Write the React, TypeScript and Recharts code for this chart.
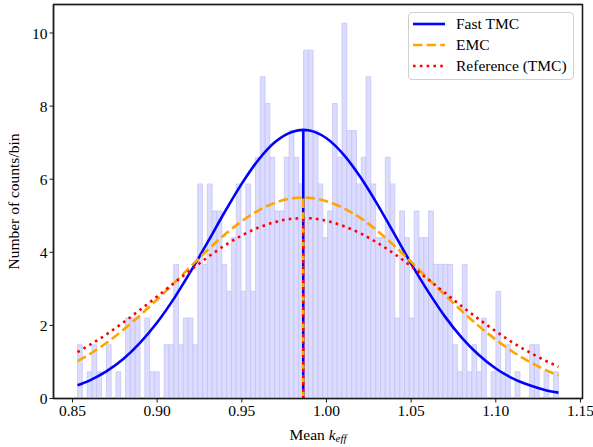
import React from 'react';
import * as Recharts from 'recharts';
import {
  ComposedChart,
  Bar,
  Line,
  XAxis,
  YAxis,
  Legend,
  Label,
  ReferenceLine,
} from 'recharts';

// histogram of mean k_eff (counts/bin, 100 bins from HIST_START)
const HIST_START = 0.853;
const BIN_WIDTH = 0.00284;
const BIN_HEIGHTS = [
  1.47, 0, 0.73, 1.47, 0.73, 0, 1.47, 0, 0.73, 0,
  2.2, 2.2, 2.2, 0, 2.2, 0.73, 0.73, 0, 1.47, 1.47,
  3.67, 1.47, 2.2, 2.2, 1.47, 5.87, 3.67, 5.87, 5.13, 5.13,
  3.67, 2.93, 4.4, 5.87, 2.93, 5.87, 2.93, 6.6, 8.8, 8.07,
  6.6, 5.13, 5.13, 6.6, 7.33, 6.6, 5.87, 9.53, 9.53, 7.33,
  5.87, 4.4, 5.13, 8.07, 6.6, 10.27, 7.33, 7.33, 5.87, 6.6,
  8.8, 5.87, 4.4, 4.4, 6.6, 5.87, 2.2, 5.13, 4.4, 2.2,
  5.13, 4.4, 4.4, 5.13, 3.67, 3.67, 3.67, 3.67, 1.47, 0.73,
  3.67, 0.73, 1.47, 0.73, 2.2, 0, 0.73, 2.93, 0.73, 1.47,
  0, 0.73, 0, 0, 1.47, 1.47, 0, 0.73, 0, 0.73,
];

// fitted normal curves
const CURVE_X = [
  0.853, 0.86, 0.87, 0.88, 0.89, 0.9, 0.91, 0.92, 0.93, 0.94, 0.95, 0.96, 0.97, 0.98,
  0.9863, 0.99, 1.0, 1.01, 1.02, 1.03, 1.04, 1.05, 1.06, 1.07, 1.08, 1.09, 1.1, 1.11,
  1.12, 1.13, 1.137,
];
const FAST_TMC = [
  0.36, 0.49, 0.74, 1.08, 1.53, 2.08, 2.74, 3.49, 4.29, 5.11, 5.88, 6.54, 7.03, 7.3,
  7.35, 7.33, 7.12, 6.68, 6.06, 5.32, 4.51, 3.69, 2.93, 2.24, 1.66, 1.19, 0.82, 0.55,
  0.36, 0.22, 0.16,
];
const EMC = [
  1.02, 1.21, 1.52, 1.88, 2.28, 2.71, 3.16, 3.62, 4.07, 4.49, 4.85, 5.15, 5.36, 5.48,
  5.5, 5.49, 5.4, 5.21, 4.94, 4.59, 4.18, 3.74, 3.28, 2.83, 2.39, 1.98, 1.61, 1.28,
  1.0, 0.77, 0.63,
];
const REFERENCE_TMC = [
  1.27, 1.46, 1.75, 2.08, 2.43, 2.79, 3.16, 3.52, 3.87, 4.19, 4.46, 4.68, 4.83, 4.92,
  4.93, 4.93, 4.86, 4.72, 4.52, 4.26, 3.96, 3.62, 3.26, 2.89, 2.52, 2.17, 1.84, 1.53,
  1.26, 1.02, 0.87,
];

const MEAN_KEFF = 0.9863;
const FAST_PEAK = 7.35;
const EMC_PEAK = 5.5;
const REF_PEAK = 4.93;

const X_TICKS = [0.85, 0.9, 0.95, 1.0, 1.05, 1.1, 1.15];
const Y_TICKS = [0, 2, 4, 6, 8, 10];
const X_DOMAIN: [number, number] = [0.8388, 1.1512];
const Y_DOMAIN: [number, number] = [0, 10.78];

const FONT = 'Liberation Serif, DejaVu Serif, serif';
const FONT_SIZE = 15.5;
const SPINE = '#1a1a1a';
const SPINE_W = 1.3;

const histData = BIN_HEIGHTS.map((h, i) => ({
  x: HIST_START + BIN_WIDTH * (i + 0.5),
  count: h,
}));
const curve = (ys: number[]) => CURVE_X.map((x, i) => ({ x, y: ys[i] }));
const meanLine = (peak: number) => [
  { x: MEAN_KEFF, y: 0 },
  { x: MEAN_KEFF, y: peak },
];

const SERIES = [
  { name: 'Fast TMC', color: '#0000ff', dash: undefined },
  { name: 'EMC', color: '#ffa500', dash: '9.5 4.1' },
  { name: 'Reference (TMC)', color: '#ff0000', dash: '2.6 4.2' },
];

function LegendBox() {
  return (
    <div
      style={{
        width: 166,
        height: 68,
        boxSizing: 'border-box',
        border: '1px solid #d0d0d0',
        borderRadius: 4,
        background: 'rgba(255,255,255,0.8)',
        paddingLeft: 4,
        fontFamily: FONT,
        fontSize: FONT_SIZE,
        color: '#000',
        whiteSpace: 'nowrap',
      }}
    >
      {SERIES.map((s) => (
        <div key={s.name} style={{ display: 'flex', alignItems: 'center', height: 21 }}>
          <svg width={32} height={8} style={{ marginRight: 11, flexShrink: 0 }}>
            <line
              x1={0}
              y1={4}
              x2={32}
              y2={4}
              stroke={s.color}
              strokeWidth={2.6}
              strokeDasharray={s.dash}
            />
          </svg>
          <span>{s.name}</span>
        </div>
      ))}
    </div>
  );
}

function XTitle(props: any) {
  const { x, y, width } = props.viewBox;
  return (
    <text x={x + width / 2} y={y + 41} textAnchor="middle" fontFamily={FONT} fontSize={FONT_SIZE} fill="#000">
      Mean <tspan fontStyle="italic">k</tspan>
      <tspan fontStyle="italic" fontSize={11} dy={2.5}>eff</tspan>
    </text>
  );
}

function YTitle(props: any) {
  const { y, height } = props.viewBox;
  const cx = 13;
  const cy = y + height / 2;
  return (
    <text
      x={cx}
      y={cy}
      transform={`rotate(-90, ${cx}, ${cy})`}
      textAnchor="middle"
      dominantBaseline="central"
      fontFamily={FONT}
      fontSize={FONT_SIZE}
      fill="#000"
    >
      Number of counts/bin
    </text>
  );
}

// box around the plot area, like matplotlib's four spines
function Frame() {
  const usePlotArea = (Recharts as any).usePlotArea;
  const plot = usePlotArea ? usePlotArea() : null;
  if (!plot) return null;
  return (
    <rect
      x={plot.x}
      y={plot.y}
      width={plot.width}
      height={plot.height}
      fill="none"
      stroke={SPINE}
      strokeWidth={SPINE_W}
    />
  );
}

const lineProps = { dot: false, activeDot: false, isAnimationActive: false, strokeWidth: 2.6 } as const;

export default function App() {
  const tick = { fontSize: FONT_SIZE, fill: '#000', fontFamily: FONT };
  return (
    <div style={{ position: 'absolute', left: 0, top: 0, width: 593, height: 447, background: '#fff' }}>
      <ComposedChart width={593} height={447} data={histData} margin={{ top: 4.5, right: 10.5, bottom: 0, left: 0 }}>
        <XAxis
          xAxisId="hist"
          dataKey="x"
          type="number"
          domain={X_DOMAIN}
          allowDataOverflow
          ticks={X_TICKS}
          interval={0}
          tickFormatter={(v: number) => v.toFixed(2)}
          tick={tick}
          tickSize={4}
          height={48.5}
          axisLine={{ stroke: SPINE, strokeWidth: SPINE_W }}
          tickLine={{ stroke: SPINE }}
        >
          <Label content={XTitle} />
        </XAxis>
        <XAxis
          xAxisId="curve"
          orientation="top"
          height={0}
          dataKey="x"
          type="number"
          domain={X_DOMAIN}
          allowDataOverflow
          hide
        />
        <YAxis
          type="number"
          domain={Y_DOMAIN}
          allowDataOverflow
          ticks={Y_TICKS}
          interval={0}
          tick={tick}
          tickSize={4}
          width={53.5}
          axisLine={{ stroke: SPINE, strokeWidth: SPINE_W }}
          tickLine={{ stroke: SPINE }}
        >
          <Label content={YTitle} />
        </YAxis>
        <Bar
          xAxisId="hist"
          dataKey="count"
          barSize={4.75}
          fill="#dcdcff"
          stroke="#c4c4f6"
          strokeWidth={0.8}
          isAnimationActive={false}
        />
        <Line xAxisId="curve" data={curve(FAST_TMC)} dataKey="y" type="monotone" stroke="#0000ff" {...lineProps} />
        <Line xAxisId="curve" data={curve(EMC)} dataKey="y" type="monotone" stroke="#ffa500" strokeDasharray="9.5 4.1" {...lineProps} />
        <Line xAxisId="curve" data={curve(REFERENCE_TMC)} dataKey="y" type="monotone" stroke="#ff0000" strokeDasharray="2.6 4.2" {...lineProps} />
        <Line xAxisId="curve" data={meanLine(FAST_PEAK)} dataKey="y" type="linear" stroke="#0000ff" {...lineProps} />
        <Line xAxisId="curve" data={meanLine(EMC_PEAK)} dataKey="y" type="linear" stroke="#ffa500" strokeDasharray="9.5 4.1" {...lineProps} />
        <Line xAxisId="curve" data={meanLine(REF_PEAK)} dataKey="y" type="linear" stroke="#ff0000" strokeDasharray="2.6 4.2" {...lineProps} />
        <ReferenceLine xAxisId="hist" y={Y_DOMAIN[1]} ifOverflow="visible" stroke={SPINE} strokeWidth={SPINE_W} />
        <ReferenceLine xAxisId="hist" x={X_DOMAIN[0]} ifOverflow="visible" stroke={SPINE} strokeWidth={SPINE_W} />
        <ReferenceLine xAxisId="hist" x={X_DOMAIN[1]} ifOverflow="visible" stroke={SPINE} strokeWidth={SPINE_W} />
        <Frame />
        <Legend
          layout="vertical"
          align="center"
          verticalAlign="middle"
          content={LegendBox}
          wrapperStyle={{ left: 408, top: 12, width: 166 }}
        />
      </ComposedChart>
    </div>
  );
}
